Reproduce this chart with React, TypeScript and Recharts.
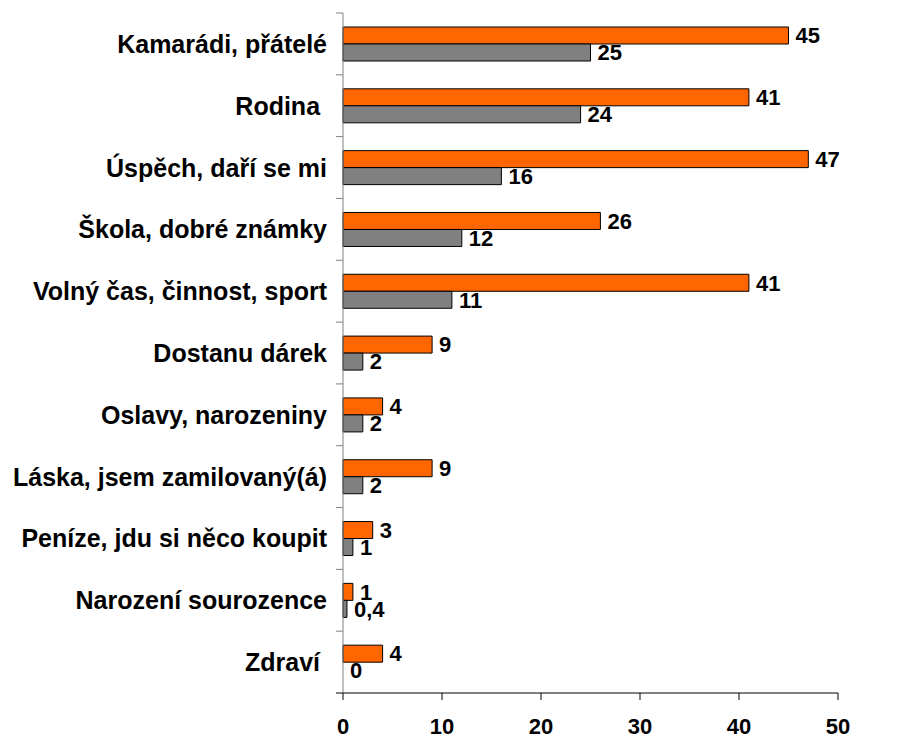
import { BarChart, Bar, XAxis, YAxis, LabelList, Cell } from 'recharts';

// kategorie (shora dolů)
const categories = [
  'Kamarádi, přátelé',
  'Rodina ',
  'Úspěch, daří se mi',
  'Škola, dobré známky',
  'Volný čas, činnost, sport',
  'Dostanu dárek',
  'Oslavy, narozeniny',
  'Láska, jsem zamilovaný(á)',
  'Peníze, jdu si něco koupit',
  'Narození sourozence',
  'Zdraví ',
];
const orangeValues = [45, 41, 47, 26, 41, 9, 4, 9, 3, 1, 4];
const grayValues = [25, 24, 16, 12, 11, 2, 2, 2, 1, 0.4, 0];
const xTicks = [0, 10, 20, 30, 40, 50];

const W = 907;
const H = 740;
const TOP = 13;
const RIGHT = 69;
const Y_AXIS_W = 343;
const X_AXIS_H = 47;
const FONT = '"Liberation Sans", Arial, sans-serif';

const data = categories.map((name, i) => ({
  name,
  orange: orangeValues[i],
  gray: grayValues[i],
}));

const fmt = (v: any) => String(v).replace('.', ',');

function CategoryTick(props: any) {
  const { y, payload } = props;
  const band = (H - TOP - X_AXIS_H) / categories.length;
  const axisX = Y_AXIS_W;
  const top = y - band / 2;
  const isLast = payload.value === categories[categories.length - 1];
  return (
    <g>
      <line x1={axisX - 7} x2={axisX} y1={top} y2={top} stroke="#808080" strokeWidth={1} />
      {isLast && (
        <line x1={axisX - 7} x2={axisX} y1={y + band / 2} y2={y + band / 2} stroke="#000" strokeWidth={1} />
      )}
      <text
        x={axisX - 16}
        y={y}
        textAnchor="end"
        dominantBaseline="central"
        fontFamily={FONT}
        fontWeight="bold"
        fontSize={25}
        fill="#000"
        style={{ whiteSpace: 'pre' }}
      >
        {payload.value}
      </text>
    </g>
  );
}

const labelStyle = { fontFamily: FONT, fontWeight: 'bold' as const, fontSize: 22, fill: '#000' };

export default function App() {
  return (
    <div style={{ position: 'absolute', left: 0, top: 0, background: '#fff' }}>
      <BarChart
        width={W}
        height={H}
        data={data}
        layout="vertical"
        margin={{ top: TOP, right: RIGHT, bottom: 0, left: 0 }}
        barSize={17}
        barGap={0}
      >
        <XAxis
          type="number"
          domain={[0, 50]}
          ticks={xTicks}
          height={X_AXIS_H}
          axisLine={{ stroke: '#000' }}
          tickLine={{ stroke: '#000' }}
          tickSize={7}
          tickMargin={18}
          tick={{ fontFamily: FONT, fontWeight: 'bold', fontSize: 22, fill: '#000' }}
        />
        <YAxis
          type="category"
          dataKey="name"
          width={Y_AXIS_W}
          axisLine={{ stroke: '#808080' }}
          tickLine={false}
          tick={<CategoryTick />}
          interval={0}
        />
        <Bar dataKey="orange" fill="#FF6600" stroke="#000" strokeWidth={1} isAnimationActive={false}>
          <LabelList dataKey="orange" position="right" offset={7} formatter={fmt} style={labelStyle} />
        </Bar>
        <Bar
          dataKey="gray"
          fill="#808080"
          stroke="#000"
          strokeWidth={1}
          minPointSize={(v: number) => (v === 0 ? 0.01 : 0)}
          isAnimationActive={false}
        >
          {grayValues.map((v, i) => (
            <Cell key={i} stroke={v === 0 ? 'none' : '#000'} />
          ))}
          <LabelList dataKey="gray" position="right" offset={7} formatter={fmt} style={labelStyle} />
        </Bar>
      </BarChart>
    </div>
  );
}
